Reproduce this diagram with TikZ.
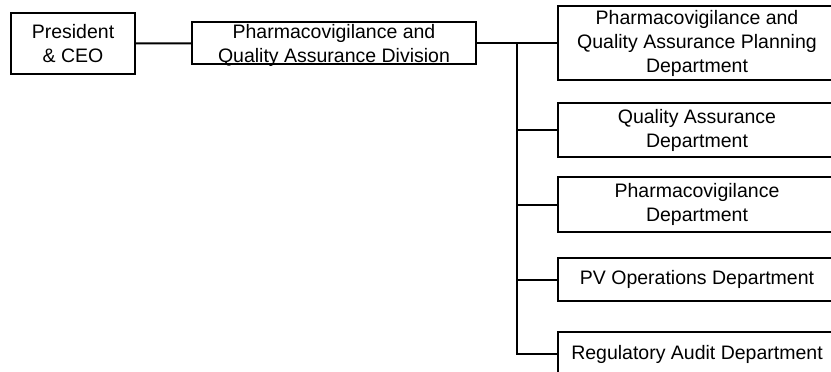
\documentclass[tikz,border=0pt]{standalone}
\usepackage{fontspec}
\setmainfont{Liberation Sans}
\usepackage{tikz}
\usetikzlibrary{calc,positioning}

\tikzset{
  unit/.style={draw, line width=2pt, inner sep=0pt, align=center},
  dept/.style={unit, minimum width=278pt},
  link/.style={line width=2pt},
}

\begin{document}
\begin{tikzpicture}[x=1pt, y=-1pt, font=\fontsize{19.5}{24}\selectfont]
    \useasboundingbox (0,0) rectangle (831,372);
    \clip (0,0) rectangle (831,372);
           \node[unit, minimum width=124pt, minimum height=61pt] (pres) at (73,43.5) {President\\\& CEO};
           \node[unit, minimum width=284pt, minimum height=42pt] (div) at (334,43) {};
           \node[align=center, inner sep=0pt] (divtext) at ($(div.center)+(0,2.5)$) {Pharmacovigilance and\\Quality Assurance Division};
           \node[dept, minimum height=74pt] (pvqa)  at (697,43)    {Pharmacovigilance and\\Quality Assurance Planning\\Department};
           \node[dept, minimum height=54pt] (qa)    at (697,130)   {Quality Assurance\\Department};
           \node[dept, minimum height=55pt] (pv)    at (697,204.5) {Pharmacovigilance\\Department};
           \node[dept, minimum height=43pt] (pvops) at (697,279.5) {PV Operations Department};
           \node[dept, minimum height=44pt] (rad)   at (697,354)   {Regulatory Audit Department};
           \coordinate (split) at (517,43);
           \draw[link] (pres) -- (div);
           \draw[link] (div) -- (pvqa);
           \foreach \d in {qa,pv,pvops,rad}
             \draw[link] (split) |- (\d.west);
        \end{tikzpicture}
\end{document}
